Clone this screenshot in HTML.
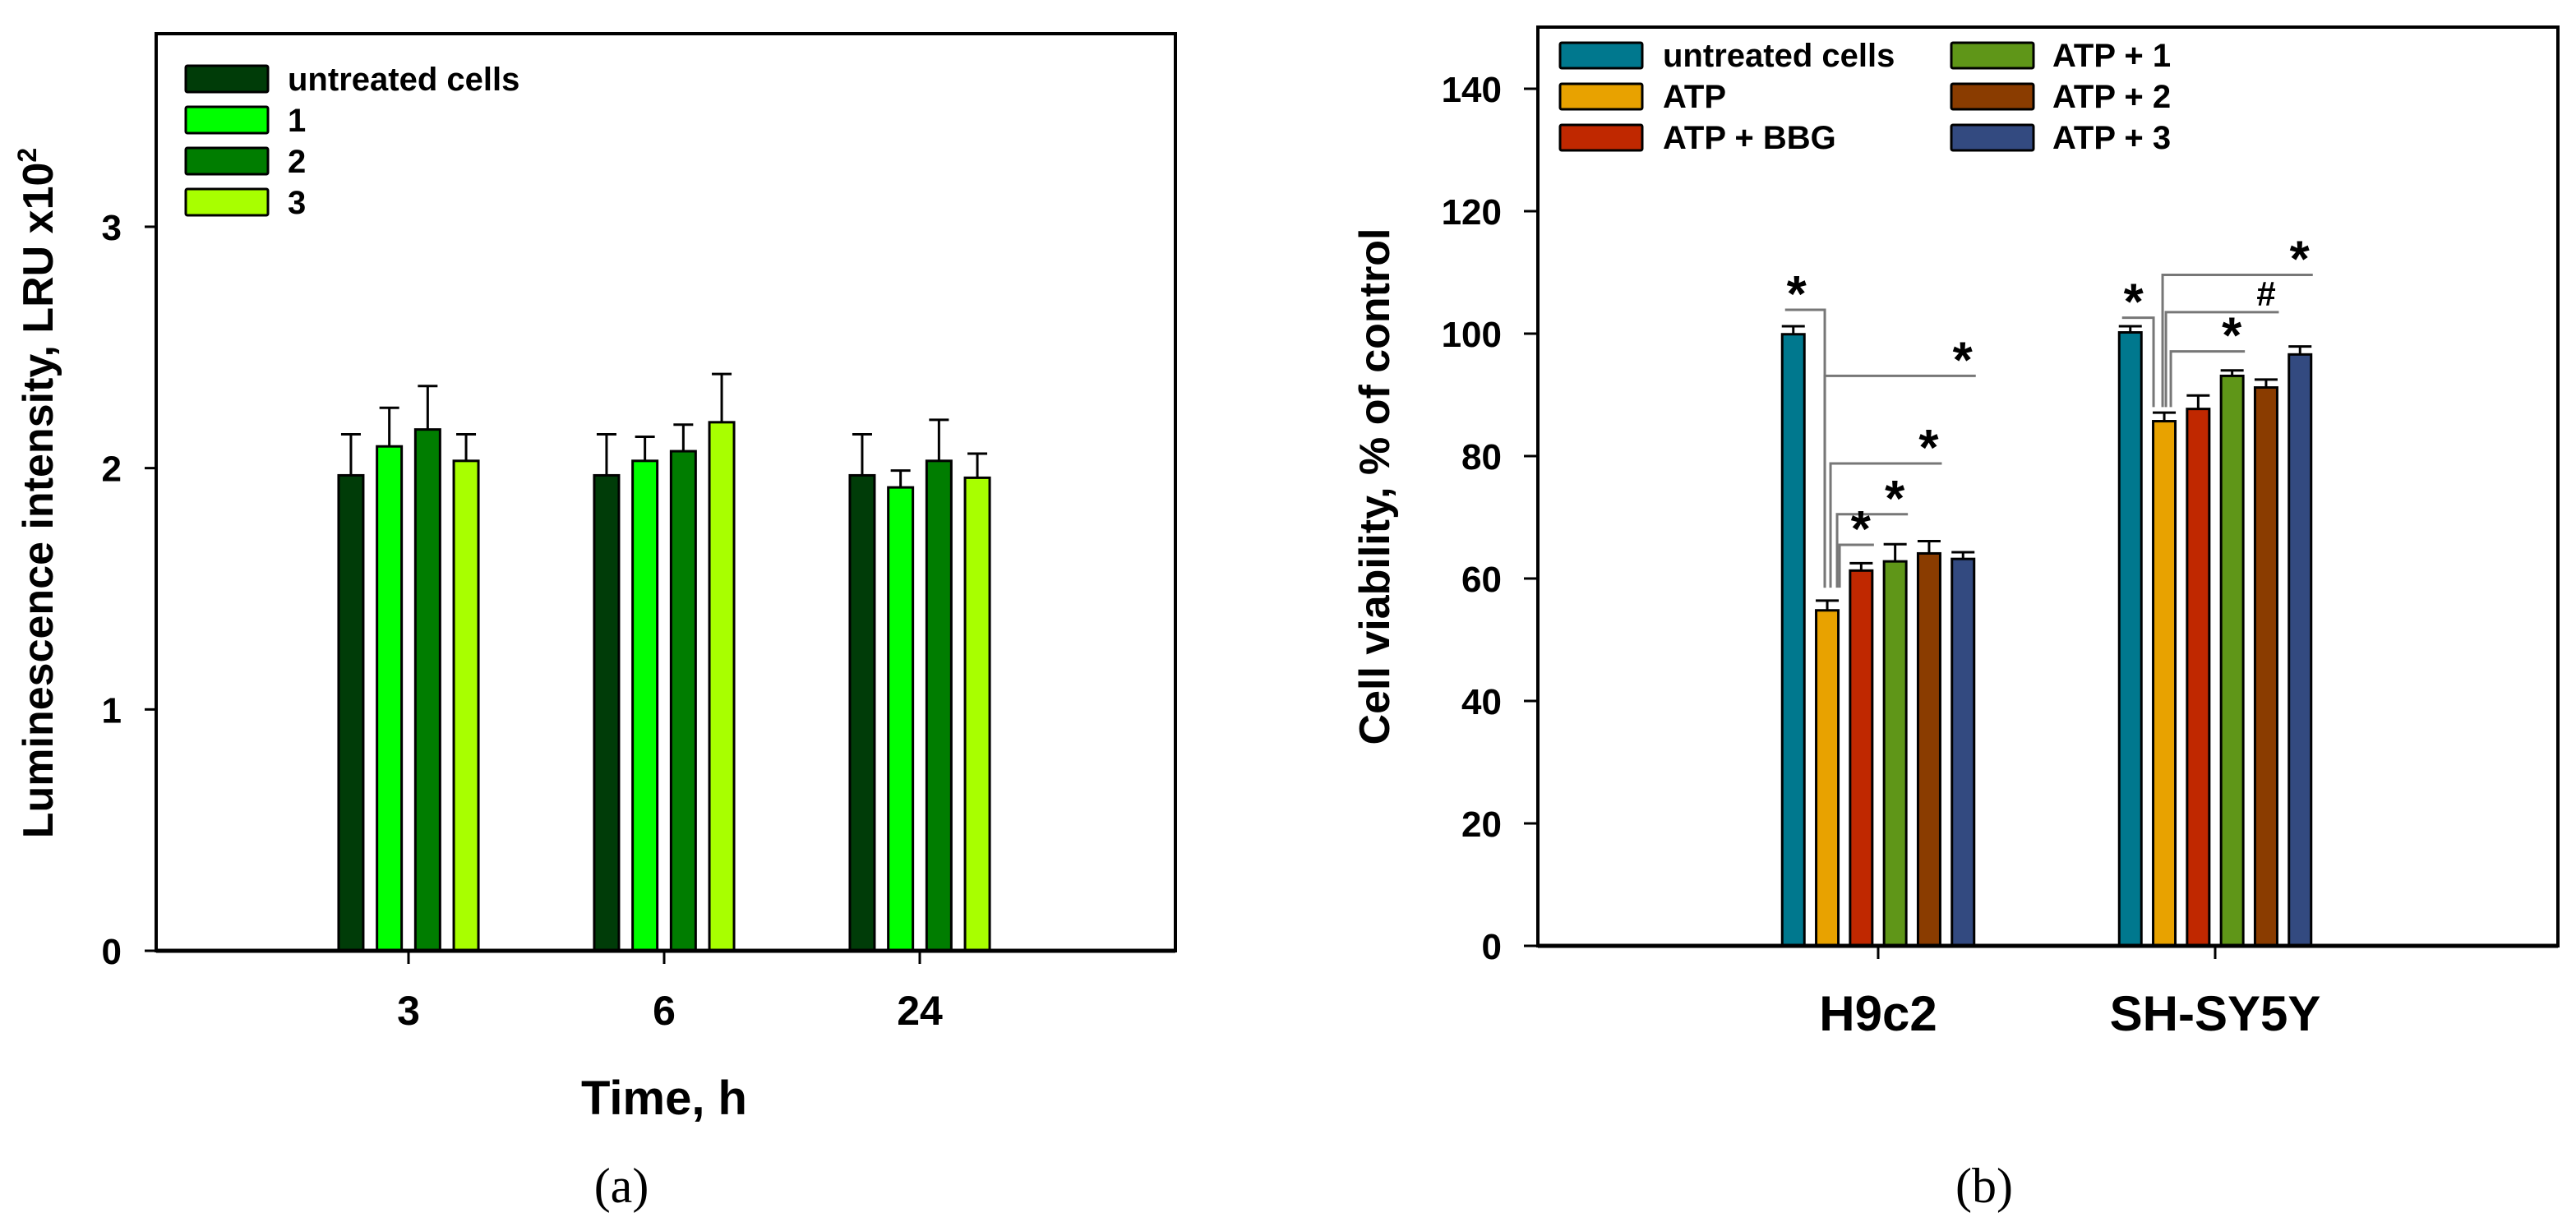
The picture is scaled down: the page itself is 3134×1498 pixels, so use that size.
<!DOCTYPE html>
<html><head><meta charset="utf-8">
<style>
html,body{margin:0;padding:0;background:#fff;}
svg{display:block;}
text{font-family:"Liberation Sans",Arial,sans-serif;font-weight:bold;fill:#000;}
.cap{font-family:"Liberation Serif","Times New Roman",serif;font-weight:normal;}
</style></head>
<body>
<svg id="fig" width="3134" height="1498" viewBox="0 0 3134 1498" xmlns="http://www.w3.org/2000/svg">
<g id="chartA"></g>
<g id="chartB"></g>
<text class="cap" x="756" y="1463" font-size="60" text-anchor="middle">(a)</text>
<text class="cap" x="2414" y="1463" font-size="60" text-anchor="middle">(b)</text>
</svg>
<script>
// ---------- Chart A data ----------
const aCategories = ["3", "6", "24"];
const aSeriesNames = ["untreated cells", "1", "2", "3"];
const aUntreated = [1.97, 1.97, 1.97];
const aS1 = [2.09, 2.03, 1.92];
const aS2 = [2.16, 2.07, 2.03];
const aS3 = [2.03, 2.19, 1.96];
const aErrUntreated = [2.14, 2.14, 2.14];
const aErrS1 = [2.25, 2.13, 1.99];
const aErrS2 = [2.34, 2.18, 2.20];
const aErrS3 = [2.14, 2.39, 2.06];
const aYTicks = [0, 1, 2, 3];

// ---------- Chart B data ----------
const bCategories = ["H9c2", "SH-SY5Y"];
const bSeriesNames = ["untreated cells", "ATP", "ATP + BBG", "ATP + 1", "ATP + 2", "ATP + 3"];
const bH9c2 = [99.9, 54.8, 61.3, 62.8, 64.1, 63.2];
const bSHSY5Y = [100.2, 85.7, 87.7, 93.1, 91.2, 96.6];
const bErrH9c2 = [101.2, 56.4, 62.5, 65.6, 66.1, 64.3];
const bErrSHSY5Y = [101.2, 87.1, 89.9, 94.0, 92.5, 97.9];
const bYTicks = [0, 20, 40, 60, 80, 100, 120, 140];
const bBracketH9c2 = 103.9, bBottomH9c2 = 58.5;
const bBracketSH = 102.6, bBottomSH = 88.0;
const bSigLevelsH9c2 = [93.1, 78.8, 70.5, 65.5];
const bSigTargetsH9c2 = [5, 4, 3, 2];
const bSigMarksH9c2 = ["*", "*", "*", "*"];
const bSigLevelsSH = [109.6, 103.5, 97.1];
const bSigTargetsSH = [5, 4, 3];
const bSigMarksSH = ["*", "#", "*"];

const NS = "http://www.w3.org/2000/svg";
function mk(parent, tag, attrs, txt) {
  const e = document.createElementNS(NS, tag);
  for (const k in attrs) e.setAttribute(k, attrs[k]);
  if (txt !== undefined) e.textContent = txt;
  parent.appendChild(e);
  return e;
}

// ---------- Chart A ----------
(function () {
  const g = document.getElementById("chartA");
  const L = 190, R = 1430, T = 41, B = 1157;
  const yMax = 3.8;
  const y = v => B - v / yMax * (B - T);
  const xC = [497, 808, 1119];
  const pitch = 46.7, bw = 30;
  const colors = ["#003c08", "#00ff00", "#007d00", "#a8ff00"];
  const vals = [aUntreated, aS1, aS2, aS3];
  const errs = [aErrUntreated, aErrS1, aErrS2, aErrS3];

  const frame = mk(g, "rect", {x: L, y: T, width: R - L, height: B - T, fill: "none", stroke: "#000", "stroke-width": 4});
  
  

  aYTicks.forEach(t => {
    const tk = mk(g, "line", {x1: L - 14, x2: L, y1: y(t), y2: y(t), stroke: "#000", "stroke-width": 3});
    
    
    const lb = mk(g, "text", {x: L - 42, y: y(t) + 16, "font-size": 44, "text-anchor": "end"}, String(t));
    
    
  });

  aCategories.forEach((c, i) => {
    const tk = mk(g, "line", {x1: xC[i], x2: xC[i], y1: B, y2: B + 16, stroke: "#000", "stroke-width": 3});
    
    
    const lb = mk(g, "text", {x: xC[i], y: 1247, "font-size": 50, "text-anchor": "middle"}, c);
    
    
    for (let s = 0; s < 4; s++) {
      const cx = xC[i] + (s - 1.5) * pitch;
      const v = vals[s][i], ev = errs[s][i];
      const eb = mk(g, "path", {d: `M${cx} ${y(v)} V${y(ev)} M${cx - 12} ${y(ev)} H${cx + 12}`, stroke: "#000", "stroke-width": 3, fill: "none"});
      
      
      const bar = mk(g, "rect", {x: cx - bw / 2, y: y(v), width: bw, height: B - y(v), fill: colors[s], stroke: "#000", "stroke-width": 3});
      
      
    }
  });
  const axis = mk(g, "line", {x1: L, x2: R, y1: B, y2: B, stroke: "#000", "stroke-width": 5});
  
  

  aSeriesNames.forEach((n, i) => {
    const yy = 80 + i * 50;
    const sw = mk(g, "rect", {x: 226, y: yy, width: 100, height: 32, fill: colors[i], stroke: "#000", "stroke-width": 3, rx: 2});
    
    
    const t = mk(g, "text", {x: 350, y: yy + 30, "font-size": 40}, n);
    
    
  });

  const yt = mk(g, "text", {x: 0, y: 0, "font-size": 52, "text-anchor": "middle", transform: "translate(64,600) rotate(-90)"});
  
  
  yt.appendChild(document.createTextNode("Luminescence intensity, LRU x10"));
  const sup = mk(yt, "tspan", {dy: -20, "font-size": 32}, "2");
  
  

  const xt = mk(g, "text", {x: 808, y: 1356, "font-size": 58, "text-anchor": "middle"}, "Time, h");
  
  
})();

// ---------- Chart B ----------
(function () {
  const g = document.getElementById("chartB");
  const L = 1871, R = 3112, T = 33, B = 1151;
  const per20 = 149;
  const y = v => B - v / 20 * per20;
  const xC = [2285, 2695];
  const pitch = 41.3, bw = 27;
  const colors = ["#00788e", "#e8a200", "#c02800", "#5f9618", "#8a3c00", "#334a80"];
  const vals = [bH9c2, bSHSY5Y];
  const errs = [bErrH9c2, bErrSHSY5Y];

  const frame = mk(g, "rect", {x: L, y: T, width: R - L, height: B - T, fill: "none", stroke: "#000", "stroke-width": 4});
  
  

  bYTicks.forEach(t => {
    const tk = mk(g, "line", {x1: L - 17, x2: L, y1: y(t), y2: y(t), stroke: "#000", "stroke-width": 3});
    
    
    const lb = mk(g, "text", {x: 1827, y: y(t) + 16, "font-size": 44, "text-anchor": "end"}, String(t));
    
    
  });

  const barX = (gi, s) => xC[gi] + (s - 2.5) * pitch;

  bCategories.forEach((c, i) => {
    const tk = mk(g, "line", {x1: xC[i], x2: xC[i], y1: B, y2: B + 16, stroke: "#000", "stroke-width": 3});
    
    
    const lb = mk(g, "text", {x: xC[i], y: 1254, "font-size": 60, "text-anchor": "middle"}, c);
    
    
    for (let s = 0; s < 6; s++) {
      const cx = barX(i, s);
      const v = vals[i][s], ev = errs[i][s];
      const eb = mk(g, "path", {d: `M${cx} ${y(v)} V${y(ev)} M${cx - 14} ${y(ev)} H${cx + 14}`, stroke: "#000", "stroke-width": 3, fill: "none"});
      
      
      const bar = mk(g, "rect", {x: cx - bw / 2, y: y(v), width: bw, height: B - y(v), fill: colors[s], stroke: "#000", "stroke-width": 3});
      
      
    }
  });
  const axis = mk(g, "line", {x1: L, x2: R, y1: B, y2: B, stroke: "#000", "stroke-width": 5});
  
  

  function sig(gi, bracket, bottom, levels, targets, marks, bracketDx, dxs) {
    const atp = barX(gi, 1);
    const t0 = barX(gi, 0);
    const bx = atp + bracketDx;
    const br = mk(g, "path", {d: `M${t0 - 10} ${y(bracket)} H${bx} V${y(bottom)}`, stroke: "#777", "stroke-width": 3, fill: "none"});
    
    
    const st = mk(g, "text", {x: t0 + 4, y: y(bracket) + 2, "font-size": 62, "text-anchor": "middle"}, "*");
    
    
    levels.forEach((lv, k) => {
      const vx = atp + dxs[k];
      const ex = barX(gi, targets[k]) + bw / 2 + 2;
      const ln = mk(g, "path", {d: `M${vx} ${y(bottom)} V${y(lv)} H${ex}`, stroke: "#777", "stroke-width": 3, fill: "none"});
      
      
      const m = marks[k];
      const mt = mk(g, "text", {x: ex - 16, y: m === "*" ? y(lv) + 2 : y(lv) - 8, "font-size": m === "*" ? 62 : 42, "text-anchor": "middle", "font-style": m === "#" ? "italic" : "normal"}, m);
      
      
    });
  }
  sig(0, bBracketH9c2, bBottomH9c2, bSigLevelsH9c2, bSigTargetsH9c2, bSigMarksH9c2, -3, [-3, 4, 12, 15]);
  sig(1, bBracketSH, bBottomSH, bSigLevelsSH, bSigTargetsSH, bSigMarksSH, -13, [-2, 2, 8]);

  bSeriesNames.forEach((n, i) => {
    const col = i < 3 ? 0 : 1, row = i % 3;
    const sx = col === 0 ? 1898 : 2374;
    const tx = col === 0 ? 2023 : 2497;
    const yy = 52 + row * 50;
    const sw = mk(g, "rect", {x: sx, y: yy, width: 100, height: 31, fill: colors[i], stroke: "#000", "stroke-width": 3, rx: 2});
    
    
    const t = mk(g, "text", {x: tx, y: yy + 29, "font-size": 40}, n);
    
    
  });

  const yt = mk(g, "text", {x: 0, y: 0, "font-size": 52, "text-anchor": "middle", transform: "translate(1690,592) rotate(-90)"}, "Cell viability, % of control");
  
  
})();
</script>
</body></html>
